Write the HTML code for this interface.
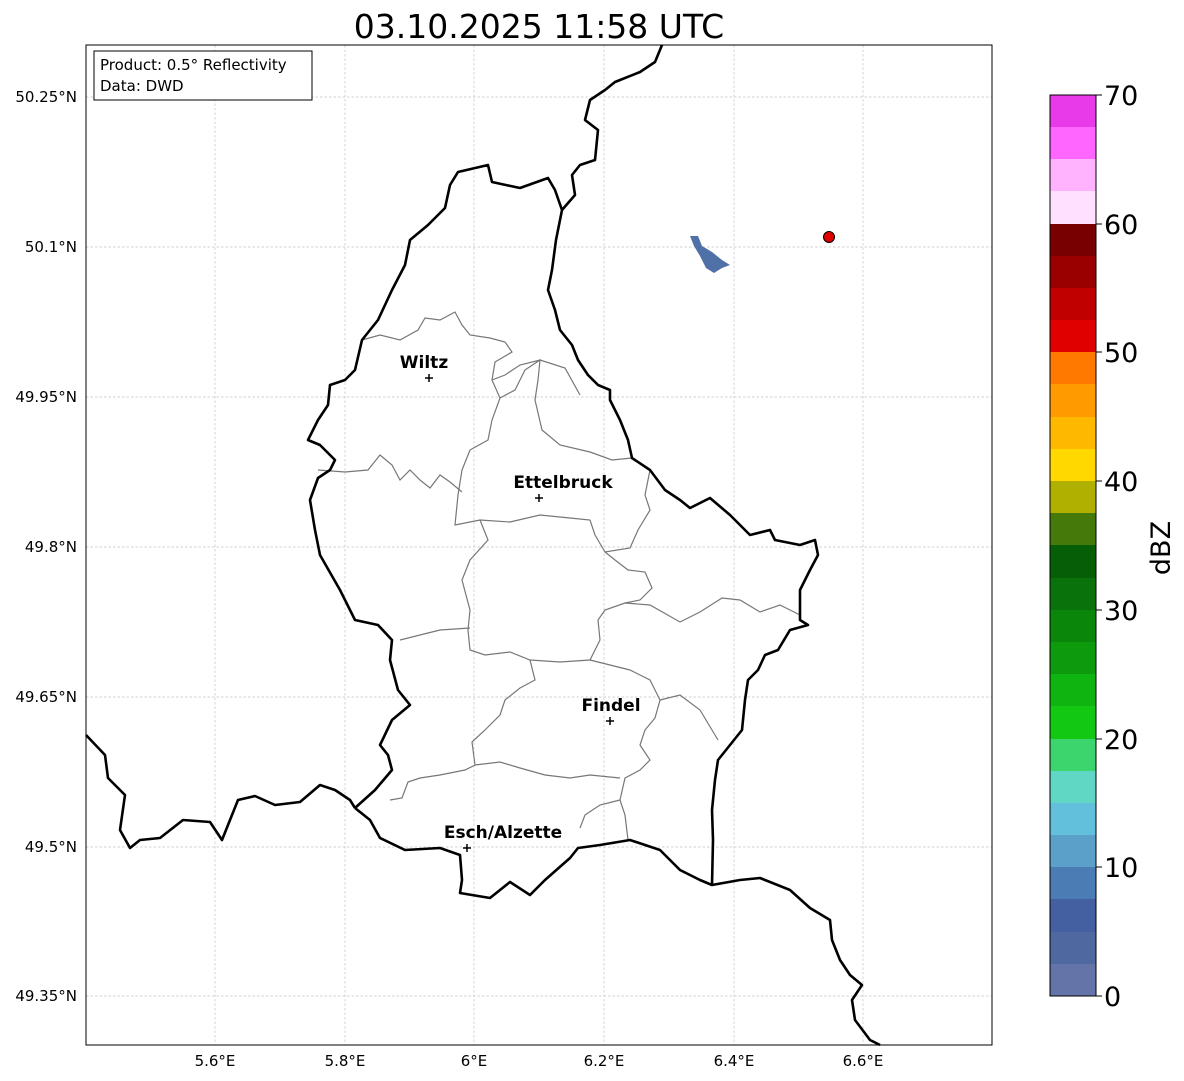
<!DOCTYPE html>
<html><head><meta charset="utf-8"><style>
body{margin:0;background:#fff;}
svg{display:block;font-family:"DejaVu Sans","Liberation Sans",sans-serif;}
</style></head><body>
<svg width="1184" height="1081" viewBox="0 0 1184 1081" xmlns="http://www.w3.org/2000/svg">
<rect width="1184" height="1081" fill="#fff"/>
<text x="539" y="38" font-size="33" text-anchor="middle">03.10.2025 11:58 UTC</text>
<g stroke="#c4c4c4" stroke-width="0.7" stroke-dasharray="2.5,2">
<line x1="215" y1="45" x2="215" y2="1045"/><line x1="345" y1="45" x2="345" y2="1045"/><line x1="474" y1="45" x2="474" y2="1045"/><line x1="604" y1="45" x2="604" y2="1045"/><line x1="734" y1="45" x2="734" y2="1045"/><line x1="863" y1="45" x2="863" y2="1045"/>
<line x1="86" y1="97" x2="992" y2="97"/><line x1="86" y1="247" x2="992" y2="247"/><line x1="86" y1="397" x2="992" y2="397"/><line x1="86" y1="547" x2="992" y2="547"/><line x1="86" y1="697" x2="992" y2="697"/><line x1="86" y1="847" x2="992" y2="847"/><line x1="86" y1="996" x2="992" y2="996"/>
</g>
<g fill="none" stroke="#777" stroke-width="1.2">
<path d="M362,340 L380,335 L400,340 L418,330 L425,318 L440,320 L455,312 L462,325 L470,335 L490,338 L505,342 L512,352 L495,362 L492,380 L500,398 L492,420 L488,440 L470,450 L462,470 L458,495 L455,525 L480,520 L510,522 L540,515 L570,518 L590,520 L595,535 L605,552 L630,548 L638,530 L650,510 L645,495 L650,470"/>
<path d="M318,470 L345,472 L368,470 L380,455 L392,465 L400,480 L410,470 L420,480 L430,488 L440,475 L450,482 L462,492"/>
<path d="M500,398 L515,390 L525,370 L540,360 L538,380 L535,400 L542,430 L560,445 L590,452 L612,460 L632,458"/>
<path d="M492,380 L505,375 L520,365 L540,360 L565,368 L580,395"/>
<path d="M480,520 L488,540 L470,560 L462,580 L470,610 L468,630 L470,650 L485,655 L510,652 L530,660 L560,662 L590,660 L600,640 L598,620 L605,610 L625,603 L650,605 L680,622 L700,612 L722,598 L740,600 L760,612 L780,605 L800,615"/>
<path d="M605,552 L615,560 L628,570 L645,572 L652,588 L640,600 L625,603"/>
<path d="M470,628 L440,630 L420,635 L400,640"/>
<path d="M530,660 L535,680 L520,688 L505,700 L500,715 L485,730 L472,742 L475,765 L465,770 L440,775 L420,778 L408,782 L402,798 L390,800"/>
<path d="M590,660 L610,665 L630,670 L650,680 L660,700 L655,718 L645,730 L640,745 L650,760 L640,770 L625,778 L620,800 L625,815 L628,840"/>
<path d="M660,700 L680,695 L700,710 L718,740"/>
<path d="M475,765 L500,762 L520,768 L545,775 L570,778 L590,775 L620,778"/>
<path d="M620,800 L600,805 L585,815 L580,828"/>
</g>
<g fill="none" stroke="#000" stroke-width="2.6" stroke-linejoin="round">
<path d="M86,735 L105,755 L108,778 L125,795 L120,830 L130,848 L140,840 L160,838 L183,820 L210,822 L222,840 L238,800 L255,796 L275,805 L300,802 L320,785 L335,790 L350,800 L355,808"/>
<path d="M355,808 L375,790 L392,770 L388,755 L380,745 L392,720 L410,705 L398,690 L390,660 L392,640 L378,625 L355,620 L340,590 L320,555 L315,530 L310,500 L318,478 L330,470 L335,460 L320,445 L308,440 L318,420 L328,405 L330,385 L345,380 L355,370 L362,340 L378,320 L392,290 L405,265 L410,240 L428,225 L445,208 L450,185 L458,172 L488,165 L492,182 L520,188 L548,178 L555,190 L562,210 L556,240 L552,270 L548,290 L555,310 L560,330 L572,345 L578,360 L588,375 L598,385 L610,390 L610,400 L620,420 L628,440 L632,458 L650,470 L665,490 L680,500 L690,508 L710,498 L730,515 L750,535 L770,530 L775,540 L800,545 L815,540 L818,555 L810,570 L800,590 L800,620 L808,625 L790,630 L778,650 L765,655 L758,670 L748,680 L745,700 L742,730 L730,745 L718,760 L715,780 L712,810 L713,840 L712,885"/>
<path d="M355,808 L370,820 L380,838 L405,850 L440,848 L460,855 L462,880 L460,893 L490,898 L510,882 L530,895 L545,880 L570,858 L578,848 L600,845 L630,840 L660,850 L680,870 L700,880 L712,885 L740,880 L760,878 L790,890 L810,908 L830,920 L832,940 L840,960 L850,975 L862,985 L852,1000 L855,1020 L870,1040 L880,1045"/>
<path d="M562,210 L575,195 L572,175 L580,165 L595,160 L598,130 L585,120 L590,100 L605,90 L615,82 L640,72 L655,62 L662,45"/>
</g>
<path d="M690,236 L698,236 L702,246 L712,252 L722,260 L730,265 L722,268 L714,273 L706,268 L700,256 L694,246 Z" fill="#5070a8"/>
<circle cx="829" cy="237" r="5.5" fill="#e00000" stroke="#000" stroke-width="1"/>
<g font-size="17" font-weight="bold" text-anchor="middle">
<text x="424" y="368">Wiltz</text><text x="563" y="488">Ettelbruck</text><text x="611" y="711">Findel</text><text x="503" y="838">Esch/Alzette</text>
</g>
<g stroke="#000" stroke-width="1.5">
<path d="M425,378h8M429,374v8"/><path d="M535,498h8M539,494v8"/><path d="M606,721h8M610,717v8"/><path d="M463,848h8M467,844v8"/>
</g>
<rect x="86" y="45" width="906" height="1000" fill="none" stroke="#000" stroke-width="1"/>
<rect x="94" y="51" width="218" height="49" fill="#fff" stroke="#000" stroke-width="1"/>
<text x="100" y="70" font-size="15">Product: 0.5° Reflectivity</text>
<text x="100" y="91" font-size="15">Data: DWD</text>
<g font-size="15" text-anchor="middle">
<text x="215" y="1066">5.6°E</text><text x="345" y="1066">5.8°E</text><text x="474" y="1066">6°E</text><text x="604" y="1066">6.2°E</text><text x="734" y="1066">6.4°E</text><text x="863" y="1066">6.6°E</text>
</g>
<g font-size="15" text-anchor="end">
<text x="77" y="102">50.25°N</text><text x="77" y="252">50.1°N</text><text x="77" y="402">49.95°N</text><text x="77" y="552">49.8°N</text><text x="77" y="702">49.65°N</text><text x="77" y="852">49.5°N</text><text x="77" y="1001">49.35°N</text>
</g>
<g>
<rect x="1050" y="95" width="46" height="33" fill="#e93ae9"/>
<rect x="1050" y="127" width="46" height="33" fill="#ff66ff"/>
<rect x="1050" y="159" width="46" height="33" fill="#ffb3ff"/>
<rect x="1050" y="191" width="46" height="33" fill="#ffe0ff"/>
<rect x="1050" y="224" width="46" height="33" fill="#780000"/>
<rect x="1050" y="256" width="46" height="33" fill="#9a0000"/>
<rect x="1050" y="288" width="46" height="33" fill="#c00000"/>
<rect x="1050" y="320" width="46" height="33" fill="#e00000"/>
<rect x="1050" y="352" width="46" height="33" fill="#ff7800"/>
<rect x="1050" y="384" width="46" height="33" fill="#ff9a00"/>
<rect x="1050" y="417" width="46" height="33" fill="#ffb800"/>
<rect x="1050" y="449" width="46" height="33" fill="#ffd800"/>
<rect x="1050" y="481" width="46" height="33" fill="#b0b000"/>
<rect x="1050" y="513" width="46" height="33" fill="#457a0a"/>
<rect x="1050" y="545" width="46" height="33" fill="#065e06"/>
<rect x="1050" y="578" width="46" height="33" fill="#0a720a"/>
<rect x="1050" y="610" width="46" height="33" fill="#0a860a"/>
<rect x="1050" y="642" width="46" height="33" fill="#0d9a0d"/>
<rect x="1050" y="674" width="46" height="33" fill="#10b410"/>
<rect x="1050" y="706" width="46" height="33" fill="#12c812"/>
<rect x="1050" y="739" width="46" height="33" fill="#3cd46c"/>
<rect x="1050" y="771" width="46" height="33" fill="#60d6c4"/>
<rect x="1050" y="803" width="46" height="33" fill="#62c0dc"/>
<rect x="1050" y="835" width="46" height="33" fill="#5aa0c8"/>
<rect x="1050" y="867" width="46" height="33" fill="#4c7cb4"/>
<rect x="1050" y="899" width="46" height="33" fill="#4560a0"/>
<rect x="1050" y="932" width="46" height="33" fill="#5068a0"/>
<rect x="1050" y="964" width="46" height="32" fill="#6474a8"/>
<rect x="1050" y="95" width="46" height="901" fill="none" stroke="#000" stroke-width="1"/>
</g>
<g stroke="#000" stroke-width="1">
<line x1="1096" y1="95" x2="1102" y2="95"/><line x1="1096" y1="224" x2="1102" y2="224"/><line x1="1096" y1="352" x2="1102" y2="352"/><line x1="1096" y1="481" x2="1102" y2="481"/><line x1="1096" y1="610" x2="1102" y2="610"/><line x1="1096" y1="739" x2="1102" y2="739"/><line x1="1096" y1="867" x2="1102" y2="867"/><line x1="1096" y1="996" x2="1102" y2="996"/>
</g>
<g font-size="27">
<text x="1104" y="105">70</text><text x="1104" y="234">60</text><text x="1104" y="362">50</text><text x="1104" y="491">40</text><text x="1104" y="620">30</text><text x="1104" y="749">20</text><text x="1104" y="877">10</text><text x="1104" y="1006">0</text>
</g>
<text x="1170" y="548" font-size="27" text-anchor="middle" transform="rotate(-90 1170 548)">dBZ</text>
</svg>
</body></html>
